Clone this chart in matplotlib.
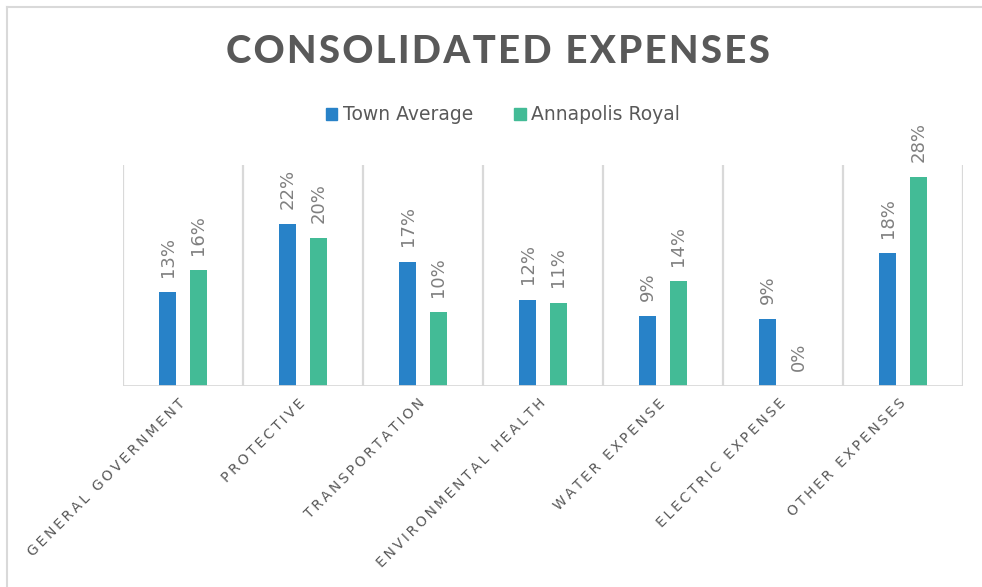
import numpy as np
import matplotlib
matplotlib.use("Agg")
import matplotlib.pyplot as plt
from matplotlib.patches import Patch
from matplotlib.lines import Line2D

# expense share by category, in percent
categories = ["General Government", "Protective", "Transportation",
              "Environmental Health", "Water Expense", "Electric Expense",
              "Other Expenses"]
town_average = [12.6, 21.7, 16.7, 11.6, 9.4, 9.0, 17.8]
annapolis_royal = [15.6, 19.8, 9.9, 11.2, 14.1, 0.0, 28.0]

BLUE = "#2882c8"
GREEN = "#43bb96"
GRID = "#d9d9d9"
DARK = "#595959"
LABEL = "#7f7f7f"


def spaced(text, gap="\u2009"):
    # fake letter spacing by putting a thin space between every character
    return gap.join(text.upper())


fig = plt.figure(figsize=(9.82, 5.87), dpi=100)
ax = fig.add_axes([123 / 982, 201 / 587, 840 / 982, 223.5 / 587])

x = np.arange(len(categories))
w = 0.139
off = 0.129
b1 = ax.bar(x - off, town_average, w, color=BLUE, zorder=3)
b2 = ax.bar(x + off, annapolis_royal, w, color=GREEN, zorder=3)

for bars, vals in ((b1, town_average), (b2, annapolis_royal)):
    for rect, v in zip(bars, vals):
        ax.annotate(f"{v:.0f}%", (rect.get_x() + rect.get_width() / 2, v),
                    xytext=(0, 11), textcoords="offset points",
                    rotation=90, ha="center", va="bottom",
                    fontsize=13, color=LABEL)

# category separators
for sep in np.arange(len(categories) + 1) - 0.5:
    ax.plot([sep, sep], [0, 29.7], color=GRID, lw=1.6, zorder=1,
            solid_capstyle="butt")
ax.axhline(0, color=GRID, lw=2, zorder=4)

ax.set_xlim(-0.5, len(categories) - 0.5)
ax.set_ylim(0, 30)
ax.set_yticks([])
for s in ax.spines.values():
    s.set_visible(False)

ax.set_xticks(x)
ax.set_xticklabels([spaced(c) for c in categories], rotation=45,
                   ha="right", va="center", rotation_mode="anchor",
                   fontsize=10, color=DARK)
ax.tick_params(axis="x", length=0, pad=11)

fig.text(498 / 982, 1 - 52 / 587, spaced("Consolidated Expenses", "\u200a"),
         ha="center", va="center", fontsize=27.5, fontweight="black",
         family=["Lato", "DejaVu Sans"], color=DARK)

handles = [Patch(color=BLUE, label="Town Average"),
           Patch(color=GREEN, label="Annapolis Royal")]
fig.legend(handles=handles, loc="center", ncol=2,
           bbox_to_anchor=(503 / 982, 1 - 115 / 587), frameon=False,
           fontsize=13.5, labelcolor=DARK, handlelength=0.6,
           handleheight=0.6, handletextpad=0.3, columnspacing=2.2)

# outer chart frame
fig.add_artist(Line2D([7 / 982, 1], [1 - 7 / 587, 1 - 7 / 587],
                      color=GRID, lw=1.5))
fig.add_artist(Line2D([7 / 982, 7 / 982], [0, 1 - 7 / 587],
                      color=GRID, lw=1.5))

fig.savefig("out.png", dpi=100)
